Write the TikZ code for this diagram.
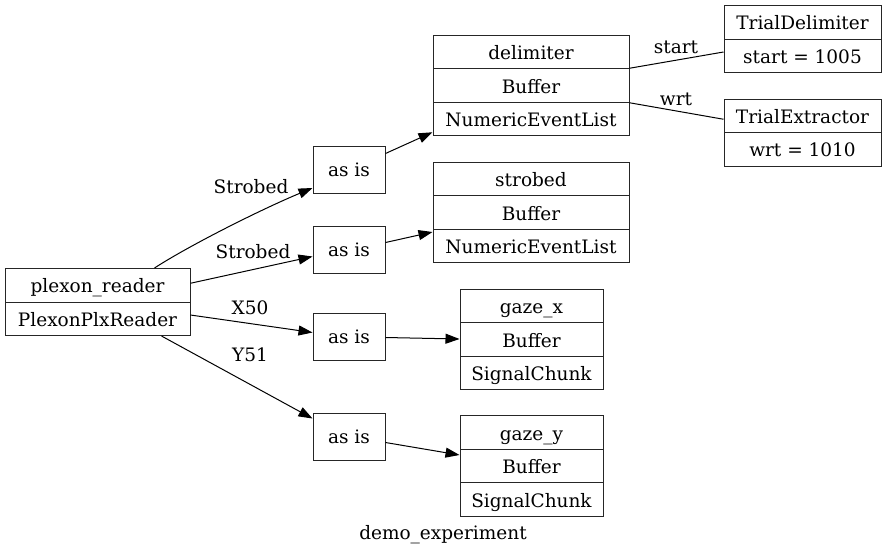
\documentclass[tikz,border=0pt]{standalone}
\usepackage{fontspec}
\setmainfont{DejaVu Serif}
\usetikzlibrary{arrows.meta}
\begin{document}
\begin{tikzpicture}[x=1pt,y=-1pt,
  every node/.style={font=\fontsize{18.5}{22}\selectfont},
  cell/.style={draw=black!85,line width=1pt,inner sep=0pt,minimum height=33.5pt,text height=19.5pt,text depth=4.5pt},
  asis/.style={draw=black!85,line width=1pt,inner sep=0pt,minimum width=72pt,minimum height=47pt,text height=13pt,text depth=0pt},
  lbl/.style={inner sep=0pt},
  edge/.style={line width=1pt,-{Triangle[length=14pt,width=10pt]}},
  link/.style={line width=1pt}]
\useasboundingbox (0,0) rectangle (885,557);
% plexon reader
\node[cell,minimum width=185pt] (p1) at (97.5,285.25) {plexon\_reader};
\node[cell,minimum width=185pt] (p2) at (97.5,318.75) {PlexonPlxReader};
% as is
\node[asis] (a1) at (349,169.5) {as is};
\node[asis] (a2) at (349,249.5) {as is};
\node[asis] (a3) at (349,336.5) {as is};
\node[asis] (a4) at (349,436.5) {as is};
% delimiter
\node[cell,minimum width=196pt] (d1) at (531,52) {delimiter};
\node[cell,minimum width=196pt] (d2) at (531,85.5) {Buffer};
\node[cell,minimum width=196pt] (d3) at (531,119) {NumericEventList};
% strobed
\node[cell,minimum width=196pt] (s1) at (531,179) {strobed};
\node[cell,minimum width=196pt] (s2) at (531,212.5) {Buffer};
\node[cell,minimum width=196pt] (s3) at (531,246) {NumericEventList};
% gaze_x
\node[cell,minimum width=143pt] (x1) at (531.5,306) {gaze\_x};
\node[cell,minimum width=143pt] (x2) at (531.5,339.5) {Buffer};
\node[cell,minimum width=143pt] (x3) at (531.5,373) {SignalChunk};
% gaze_y
\node[cell,minimum width=143pt] (y1) at (531.5,432.5) {gaze\_y};
\node[cell,minimum width=143pt] (y2) at (531.5,466) {Buffer};
\node[cell,minimum width=143pt] (y3) at (531.5,499.5) {SignalChunk};
% trial nodes
\node[cell,minimum width=157pt] (t1) at (802.5,22.25) {TrialDelimiter};
\node[cell,minimum width=157pt] (t2) at (802.5,55.75) {start = 1005};
\node[cell,minimum width=157pt] (e1) at (802.5,115.75) {TrialExtractor};
\node[cell,minimum width=157pt] (e2) at (802.5,149.25) {wrt = 1010};
% edges
\draw[edge] ([xshift=-36pt]p1.north east) .. controls (190,245) and (262,209) .. ([yshift=-18.5pt]a1.west);
\draw[edge] ([yshift=2pt]p1.east) -- ([yshift=-7pt]a2.west);
\draw[edge] ([yshift=3.75pt]p2.east) -- ([yshift=4pt]a3.west);
\draw[edge] ([xshift=-29pt]p2.south east) -- ([yshift=18pt]a4.west);
\draw[edge] ([yshift=16pt]a1.east) -- ([yshift=4pt]d3.south west);
\draw[edge] ([yshift=7pt]a2.east) -- ([yshift=14pt]s3.west);
\draw[edge] ([yshift=-1pt]a3.east) -- ([yshift=0.5pt]x2.west);
\draw[edge] ([yshift=-6pt]a4.east) -- ([yshift=11pt]y2.west);
\draw[link] (d2.north east) -- ([yshift=-13.5pt]t2.north west);
\draw[link] (d2.south east) -- ([yshift=-3.5pt]e1.west);
% labels
\node[lbl] (l1) at (251,187) {Strobed};
\node[lbl] (l2) at (253,252) {Strobed};
\node[lbl] (l3) at (250,308) {X50};
\node[lbl] (l4) at (250,355) {Y51};
\node[lbl] (l5) at (676,47) {start};
\node[lbl] (l6) at (676,99) {wrt};
\node[lbl] (title) at (443,535) {demo\_experiment};
\end{tikzpicture}
\end{document}
